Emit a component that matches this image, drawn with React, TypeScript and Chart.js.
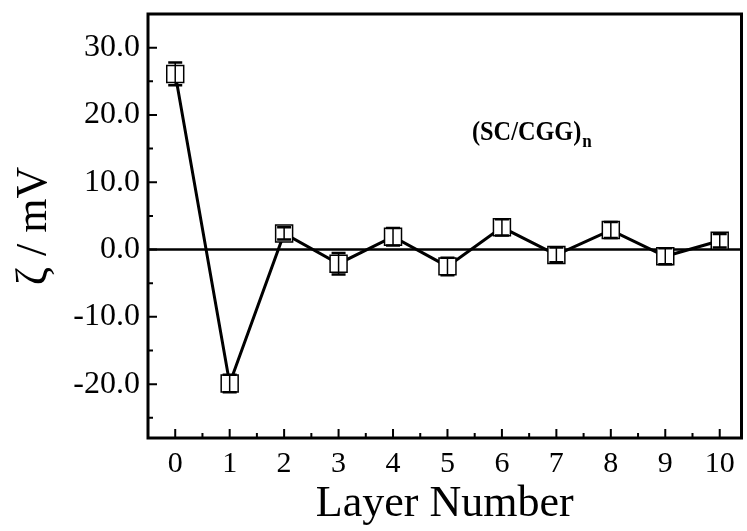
import React, { useEffect, useRef } from 'react';
import { Chart, registerables } from 'chart.js';

Chart.register(...registerables);

const layers = [0, 1, 2, 3, 4, 5, 6, 7, 8, 9, 10];
const zeta = [26.1, -19.9, 2.4, -2.1, 1.9, -2.5, 3.3, -0.8, 2.9, -1.0, 1.3];
const zetaErr = [1.7, 1.3, 0.9, 1.6, 1.3, 1.3, 1.2, 1.1, 1.2, 1.2, 1.0];

const yMajorTicks = [-20, -10, 0, 10, 20, 30];
const yMinorTicks = [-25, -15, -5, 5, 15, 25, 35];
const xMajorTicks = [0, 1, 2, 3, 4, 5, 6, 7, 8, 9, 10];
const xMinorTicks = [0.5, 1.5, 2.5, 3.5, 4.5, 5.5, 6.5, 7.5, 8.5, 9.5];

const xTitle = 'Layer Number';
const yTitle = 'ζ / mV';
const annotationMain = '(SC/CGG)';
const annotationSub = 'n';
const annotationAt = { x: 5.45, y: 16.3 };

const SERIF = '"Liberation Serif", "Times New Roman", serif';

const customPlugin = {
  id: 'customDecor',
  beforeDatasetsDraw(chart: any) {
    const { ctx, chartArea: a, scales } = chart;
    const y = scales.y;
    const y0 = y.getPixelForValue(0);
    ctx.save();
    ctx.strokeStyle = '#000';
    ctx.lineWidth = 2.5;
    ctx.beginPath();
    ctx.moveTo(a.left, y0);
    ctx.lineTo(a.right, y0);
    ctx.stroke();
    ctx.restore();
  },
  afterDatasetsDraw(chart: any) {
    const { ctx, chartArea: a, scales } = chart;
    const x = scales.x;
    const y = scales.y;
    ctx.save();
    ctx.strokeStyle = '#000';
    // error bars
    layers.forEach((lx, i) => {
      const px = x.getPixelForValue(lx);
      const top = y.getPixelForValue(zeta[i] + zetaErr[i]);
      const bot = y.getPixelForValue(zeta[i] - zetaErr[i]);
      ctx.lineWidth = 1.5;
      ctx.beginPath();
      ctx.moveTo(px, top);
      ctx.lineTo(px, bot);
      ctx.stroke();
      ctx.lineWidth = 2.5;
      ctx.beginPath();
      ctx.moveTo(px - 7, top);
      ctx.lineTo(px + 7, top);
      ctx.moveTo(px - 7, bot);
      ctx.lineTo(px + 7, bot);
      ctx.stroke();
    });
    // ticks
    ctx.lineWidth = 2;
    ctx.beginPath();
    yMajorTicks.forEach((v) => {
      const py = y.getPixelForValue(v);
      ctx.moveTo(a.left, py);
      ctx.lineTo(a.left + 9, py);
    });
    yMinorTicks.forEach((v) => {
      const py = y.getPixelForValue(v);
      ctx.moveTo(a.left, py);
      ctx.lineTo(a.left + 5, py);
    });
    xMajorTicks.forEach((v) => {
      const px = x.getPixelForValue(v);
      ctx.moveTo(px, a.bottom);
      ctx.lineTo(px, a.bottom - 9);
    });
    xMinorTicks.forEach((v) => {
      const px = x.getPixelForValue(v);
      ctx.moveTo(px, a.bottom);
      ctx.lineTo(px, a.bottom - 5);
    });
    ctx.stroke();
    // frame
    ctx.lineWidth = 3;
    ctx.strokeRect(a.left, a.top, a.right - a.left, a.bottom - a.top);
    // annotation
    const ax = x.getPixelForValue(annotationAt.x);
    const ay = y.getPixelForValue(annotationAt.y);
    ctx.fillStyle = '#000';
    ctx.textBaseline = 'alphabetic';
    ctx.textAlign = 'left';
    ctx.font = `bold 27px ${SERIF}`;
    ctx.save();
    ctx.translate(ax, ay);
    ctx.scale(0.9, 1);
    ctx.fillText(annotationMain, 0, 0);
    const w = ctx.measureText(annotationMain).width;
    ctx.font = `bold 19px ${SERIF}`;
    ctx.fillText(annotationSub, w + 1, 7);
    ctx.restore();
    ctx.restore();
  },
};

const zeroPadding = (scale: any) => {
  scale.paddingTop = 0;
  scale.paddingBottom = 0;
  scale.paddingLeft = 0;
  scale.paddingRight = 0;
};

export default function App() {
  const canvasRef = useRef<HTMLCanvasElement | null>(null);

  useEffect(() => {
    const canvas = canvasRef.current;
    if (!canvas) return;
    const chart = new Chart(canvas, {
      type: 'scatter',
      data: {
        datasets: [
          {
            data: layers.map((lx, i) => ({ x: lx, y: zeta[i] })),
            showLine: true,
            borderColor: '#000',
            borderWidth: 3,
            pointStyle: 'rect',
            pointRadius: 12,
            pointHoverRadius: 12,
            pointBackgroundColor: '#fff',
            pointBorderColor: '#000',
            pointBorderWidth: 1.5,
          },
        ],
      },
      options: {
        animation: false,
        responsive: false,
        devicePixelRatio: 1,
        layout: { padding: { left: 0, top: 14, right: 0, bottom: 0 } },
        plugins: {
          legend: { display: false },
          tooltip: { enabled: false },
        },
        scales: {
          x: {
            type: 'linear',
            min: -0.5,
            max: 10.4,
            afterBuildTicks: (scale: any) => {
              scale.ticks = xMajorTicks.map((v) => ({ value: v }));
            },
            afterFit: (scale: any) => {
              scale.height = 93;
              zeroPadding(scale);
            },
            grid: { display: false, drawTicks: false },
            border: { display: false },
            ticks: {
              color: '#000',
              font: { family: SERIF, size: 30 },
              padding: 8,
              autoSkip: false,
              maxRotation: 0,
              callback: (v: any) => String(v),
            },
            title: {
              display: true,
              text: xTitle,
              color: '#000',
              font: { family: SERIF, size: 44 },
              padding: { top: 0, bottom: 0 },
            },
          },
          y: {
            type: 'linear',
            min: -28,
            max: 35,
            afterBuildTicks: (scale: any) => {
              scale.ticks = yMajorTicks.map((v) => ({ value: v }));
            },
            afterFit: (scale: any) => {
              scale.width = 148;
              zeroPadding(scale);
            },
            grid: { display: false, drawTicks: false },
            border: { display: false },
            ticks: {
              color: '#000',
              font: { family: SERIF, size: 32 },
              padding: 8,
              autoSkip: false,
              callback: (v: any) => Number(v).toFixed(1),
            },
            title: {
              display: true,
              text: yTitle,
              color: '#000',
              font: { family: SERIF, size: 44 },
              padding: { top: 8, bottom: 0 },
            },
          },
        },
      },
      plugins: [customPlugin],
    } as any);
    return () => chart.destroy();
  }, []);

  return (
    <div style={{ position: 'fixed', left: 0, top: 0, width: 747, height: 531, overflow: 'hidden', background: '#fff' }}>
      <canvas ref={canvasRef} width={755} height={531} style={{ display: 'block' }} />
    </div>
  );
}
